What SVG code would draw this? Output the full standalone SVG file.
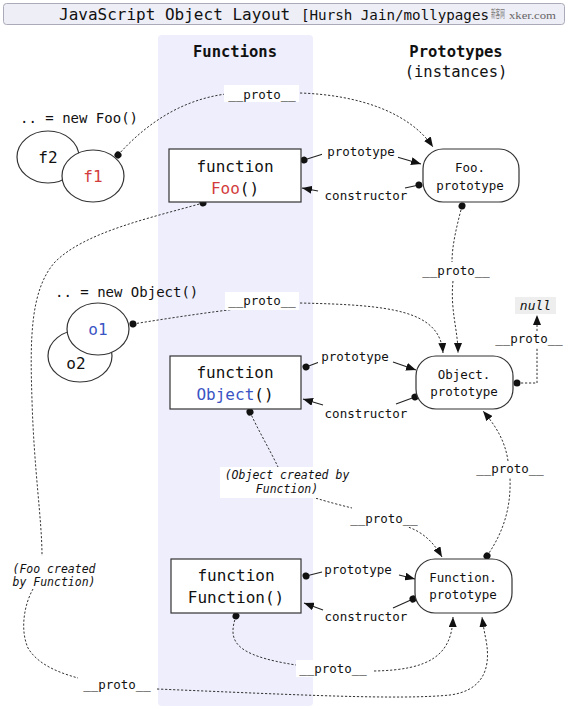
<svg xmlns="http://www.w3.org/2000/svg" width="570" height="709" viewBox="0 0 570 709">
<style>
text{font-family:"DejaVu Sans Mono","Liberation Mono",monospace;fill:#111}
.big{font-size:16px}
.lbl{font-size:12.5px;text-anchor:middle}
.nt{font-size:12.5px;text-anchor:middle}
.hd{font-size:15.5px;font-weight:bold;text-anchor:middle}
.it{font-size:11.5px;font-style:italic;text-anchor:middle}
.box{fill:#fff;stroke:#333;stroke-width:1.2}
.dash{fill:none;stroke:#333;stroke-width:1;stroke-dasharray:2.2,1.8}
.sol{fill:none;stroke:#222;stroke-width:1.1}
.bg{fill:#fff}
.red{fill:#d23c3c}
.blue{fill:#3a54c4}
</style>
<defs>
<marker id="arr" markerUnits="userSpaceOnUse" markerWidth="10" markerHeight="8" refX="10" refY="4" orient="auto">
<path d="M0,0 L10,4 L0,8 z" fill="#111"/>
</marker>
<marker id="dot" markerUnits="userSpaceOnUse" markerWidth="8" markerHeight="8" refX="4" refY="4" orient="auto">
<circle cx="4" cy="4" r="3.5" fill="#111"/>
</marker>
</defs>
<rect width="570" height="709" fill="#fff"/>
<g id="title">
<rect x="3.5" y="3.5" width="561" height="21" rx="3" fill="#eeeef6" stroke="#aaaab8"/>
<text x="59" y="20" class="big">JavaScript Object Layout</text>
<text x="301" y="20" font-size="14" textLength="188" lengthAdjust="spacingAndGlyphs">[Hursh Jain/mollypages</text>
<text transform="translate(491,18) scale(0.42,1)" font-size="11" style="font-family:'Noto Sans CJK SC',sans-serif;fill:#777">新客网</text>
<text x="509" y="19" font-size="11" textLength="47" lengthAdjust="spacingAndGlyphs" style="font-family:'Liberation Serif',serif;fill:#666">xker.com</text>
</g>
<g id="functions-column">
<rect x="158" y="35" width="155" height="671" rx="4" fill="#eeeefc"/>
<text x="235" y="57" class="hd">Functions</text>
</g>
<g id="prototypes-heading">
<text x="456" y="57" class="hd">Prototypes</text>
<text x="456" y="77" class="hd" style="font-weight:normal">(instances)</text>
</g>
<g id="connectors">
<path class="sol" d="M304,160 L323,154" marker-start="url(#dot)"/>
<path class="sol" d="M397,157 L421,164" marker-end="url(#arr)"/>
<path class="sol" d="M419,185 L405,188" marker-start="url(#dot)"/>
<path class="sol" d="M318,191 L302,188" marker-end="url(#arr)"/>
<path class="sol" d="M306,367 L322,361" marker-start="url(#dot)"/>
<path class="sol" d="M393,362 L416,370" marker-end="url(#arr)"/>
<path class="sol" d="M415,397 L396,404" marker-start="url(#dot)"/>
<path class="sol" d="M323,405 L303,399" marker-end="url(#arr)"/>
<path class="sol" d="M306,576 L322,572" marker-start="url(#dot)"/>
<path class="sol" d="M399,575 L415,579" marker-end="url(#arr)"/>
<path class="sol" d="M413,599 L393,608" marker-start="url(#dot)"/>
<path class="sol" d="M323,610 L304,603" marker-end="url(#arr)"/>
<path class="dash" d="M118,155 C145,125 180,100 226,94" marker-start="url(#dot)"/>
<path class="dash" d="M300,93 C360,95 410,113 433,147" marker-end="url(#arr)"/>
<path class="dash" d="M462,206 C457,225 452,245 452,262" marker-start="url(#dot)"/>
<path class="dash" d="M453,281 C450,310 458,330 458,353" marker-end="url(#arr)"/>
<path class="dash" d="M133,324 C170,318 210,312 245,308" marker-start="url(#dot)"/>
<path class="dash" d="M300,303 C390,305 440,310 443,353" marker-end="url(#arr)"/>
<path class="dash" d="M487,556 C505,530 511,505 510,478" marker-start="url(#dot)"/>
<path class="dash" d="M508,461 C505,440 495,425 483,411" marker-end="url(#arr)"/>
<path class="dash" d="M517,383 H537 V315" marker-start="url(#dot)" marker-end="url(#arr)"/>
<path class="dash" d="M250,412 C258,430 270,450 278,467" marker-start="url(#dot)"/>
<path class="dash" d="M312,497 C328,502 340,505 352,508"/>
<path class="dash" d="M405,526 C425,532 435,545 442,557" marker-end="url(#arr)"/>
<path class="dash" d="M203,203 C150,218 85,232 55,262 C30,290 30,340 32,400 C34,470 42,520 42,556" marker-start="url(#dot)"/>
<path class="dash" d="M33,589 C24,605 20,630 28,648 C38,665 60,673 78,678"/>
<path class="dash" d="M157,689 C300,695 400,700 450,695 C480,691 492,672 486,640 C484,630 483,624 482,617" marker-end="url(#arr)"/>
<path class="dash" d="M236,616 C228,640 232,655 296,665" marker-start="url(#dot)"/>
<path class="dash" d="M374,671 C430,670 452,655 453,617" marker-end="url(#arr)"/>
</g>
<g id="labels">
<rect class="bg" x="224" y="85" width="75" height="17"/>
<text x="262" y="99" class="lbl">__proto__</text>
<rect class="bg" x="422" y="262" width="68" height="18"/>
<text x="456" y="275" class="lbl">__proto__</text>
<rect class="bg" x="225" y="292" width="74" height="18"/>
<text x="262" y="305" class="lbl">__proto__</text>
<rect class="bg" x="476" y="461" width="69" height="17"/>
<text x="510" y="473" class="lbl">__proto__</text>
<rect class="bg" x="496" y="331" width="67" height="17"/>
<text x="529" y="343" class="lbl">__proto__</text>
<rect class="bg" x="348" y="510" width="72" height="17"/>
<text x="384" y="523" class="lbl">__proto__</text>
<rect class="bg" x="296" y="660" width="74" height="17"/>
<text x="333" y="673" class="lbl">__proto__</text>
<rect class="bg" x="80" y="676" width="74" height="17"/>
<text x="117" y="689" class="lbl">__proto__</text>
<rect class="bg" x="322" y="144" width="76" height="16"/>
<text x="361" y="156" class="lbl">prototype</text>
<text x="366" y="200" class="lbl">constructor</text>
<rect class="bg" x="318" y="350" width="74" height="15"/>
<text x="355" y="361" class="lbl">prototype</text>
<text x="366" y="418" class="lbl">constructor</text>
<text x="358" y="574" class="lbl">prototype</text>
<text x="366" y="621" class="lbl">constructor</text>
<rect class="bg" x="220" y="467" width="132" height="31"/>
<text x="287" y="479" class="it">(Object created by</text>
<text x="287" y="493" class="it">Function)</text>
<text x="54" y="573" class="it">(Foo created</text>
<text x="54" y="586" class="it">by Function)</text>
</g>
<g id="new-foo">
<text x="20" y="123" font-size="14">.. = new Foo()</text>
</g>
<g id="f2">
<ellipse class="box" cx="48" cy="157" rx="31" ry="26"/>
<text x="48" y="163" class="big" text-anchor="middle">f2</text>
</g>
<g id="f1">
<ellipse class="box" cx="93" cy="176" rx="31" ry="26"/>
<text x="93" y="182" class="big red" text-anchor="middle">f1</text>
</g>
<g id="new-object">
<text x="55" y="297" font-size="14">.. = new Object()</text>
</g>
<g id="o2">
<ellipse class="box" cx="80" cy="356" rx="32" ry="26"/>
<text x="76" y="369" class="big" text-anchor="middle">o2</text>
</g>
<g id="o1">
<ellipse class="box" cx="98" cy="329" rx="31" ry="26"/>
<text x="98" y="335" class="big blue" text-anchor="middle">o1</text>
</g>
<g id="function-foo">
<rect class="box" x="169" y="149" width="132" height="53"/>
<text x="235" y="172" class="big" text-anchor="middle">function</text>
<text x="235" y="194" class="big" text-anchor="middle"><tspan class="red">Foo</tspan>()</text>
</g>
<g id="function-object">
<rect class="box" x="170" y="356" width="131" height="53"/>
<text x="235" y="378" class="big" text-anchor="middle">function</text>
<text x="235" y="400" class="big" text-anchor="middle"><tspan class="blue">Object</tspan>()</text>
</g>
<g id="function-function">
<rect class="box" x="171" y="559" width="130" height="54"/>
<text x="236" y="581" class="big" text-anchor="middle">function</text>
<text x="236" y="603" class="big" text-anchor="middle">Function()</text>
</g>
<g id="foo-prototype">
<rect class="box" x="423" y="149" width="96" height="53" rx="20"/>
<text x="470" y="172" class="nt">Foo.</text>
<text x="470" y="190" class="nt">prototype</text>
</g>
<g id="object-prototype">
<rect class="box" x="416" y="356" width="97" height="53" rx="20"/>
<text x="464" y="379" class="nt">Object.</text>
<text x="464" y="396" class="nt">prototype</text>
</g>
<g id="function-prototype">
<rect class="box" x="415" y="559" width="97" height="54" rx="20"/>
<text x="463" y="582" class="nt">Function.</text>
<text x="463" y="599" class="nt">prototype</text>
</g>
<g id="null">
<rect x="515" y="297" width="41" height="17" fill="#eeeeee"/>
<text x="535.5" y="310" font-size="13" font-style="italic" text-anchor="middle">null</text>
</g>
</svg>
